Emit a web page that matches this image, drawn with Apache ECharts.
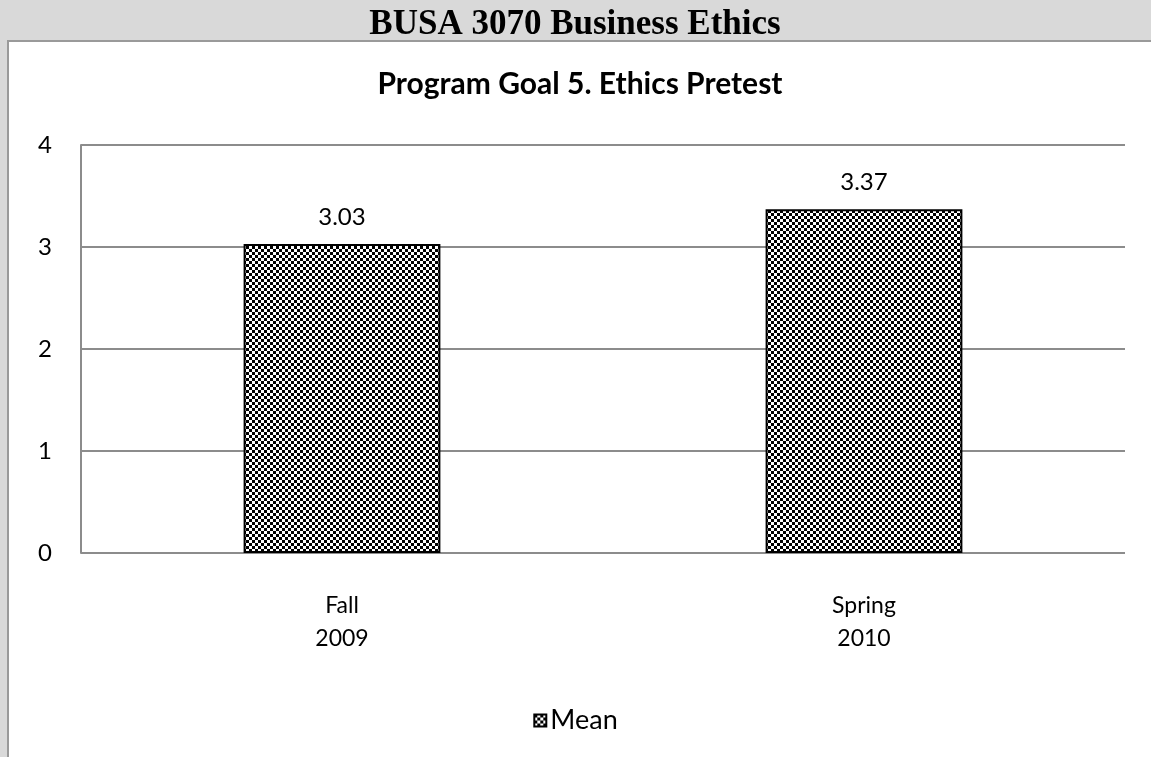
<!DOCTYPE html>
<html>
<head>
<meta charset="utf-8">
<style>
  html, body { margin: 0; padding: 0; background: #d9d9d9; }
  #chart { width: 1151px; height: 757px; }
</style>
<script src="https://cdn.jsdelivr.net/npm/echarts@6/dist/echarts.min.js"></script>
</head>
<body>
<div id="chart"></div>
<script>
// Chart data
const categories = ['Fall\n2009', 'Spring\n2010'];
const meanValues = [3.03, 3.37];
const yTicks = [0, 1, 2, 3, 4];
const seriesName = 'Mean';
const pageHeading = 'BUSA 3070 Business Ethics';
const chartTitle = 'Program Goal 5. Ethics Pretest';

// Black & white checkerboard fill for the bars
function checkerPattern(cell) {
  const c = document.createElement('canvas');
  c.width = cell * 2;
  c.height = cell * 2;
  const ctx = c.getContext('2d');
  ctx.fillStyle = '#ffffff';
  ctx.fillRect(0, 0, c.width, c.height);
  ctx.fillStyle = '#000000';
  ctx.fillRect(0, 0, cell, cell);
  ctx.fillRect(cell, cell, cell, cell);
  return c;
}
const checker = { image: checkerPattern(3), repeat: 'repeat' };

const font = 'Lato, "Open Sans", "DejaVu Sans", sans-serif';

const chart = echarts.init(document.getElementById('chart'), null, { renderer: 'canvas' });
chart.setOption({
  animation: false,
  backgroundColor: '#d9d9d9',
  graphic: [
    {
      type: 'rect',
      z: -10,
      shape: { x: 8, y: 41, width: 1160, height: 740 },
      style: { fill: '#ffffff', stroke: '#9a9a9a', lineWidth: 2 }
    }
  ],
  title: [
    {
      text: pageHeading,
      left: 575,
      textAlign: 'center',
      top: 7,
      padding: 0,
      textStyle: {
        fontFamily: '"Liberation Serif", "Times New Roman", serif',
        fontWeight: 'bold',
        fontSize: 35,
        color: '#000'
      }
    },
    {
      text: chartTitle,
      left: 580,
      textAlign: 'center',
      top: 69,
      padding: 0,
      textStyle: {
        fontFamily: font,
        fontWeight: 'bold',
        fontSize: 30,
        color: '#000'
      }
    }
  ],
  legend: {
    data: [seriesName],
    top: 702,
    left: 'center',
    icon: 'rect',
    itemWidth: 12,
    itemHeight: 12,
    itemGap: 4,
    textStyle: { fontFamily: font, fontSize: 27, color: '#000', padding: [0, 0, 0, -1] }
  },
  grid: { left: 81, right: 26, top: 145, bottom: 204, containLabel: false },
  xAxis: {
    type: 'category',
    data: categories,
    axisLine: { show: false },
    axisTick: { show: false },
    axisLabel: {
      fontFamily: font,
      fontSize: 23,
      color: '#000',
      lineHeight: 33,
      margin: 36
    }
  },
  yAxis: {
    type: 'value',
    min: yTicks[0],
    max: yTicks[yTicks.length - 1],
    interval: 1,
    axisLine: { show: true, lineStyle: { color: '#8c8c8c', width: 2 } },
    axisTick: { show: false },
    splitLine: { lineStyle: { color: '#8c8c8c', width: 2 } },
    axisLabel: {
      fontFamily: font,
      fontSize: 24,
      color: '#000',
      margin: 29
    }
  },
  series: [
    {
      name: seriesName,
      type: 'bar',
      data: meanValues,
      barWidth: '37.7%',
      itemStyle: { color: checker, borderColor: '#000', borderWidth: 2 },
      label: {
        show: true,
        position: 'top',
        distance: 15,
        fontFamily: font,
        fontSize: 24,
        color: '#000',
        formatter: p => p.value.toFixed(2)
      }
    }
  ]
});
</script>
</body>
</html>
